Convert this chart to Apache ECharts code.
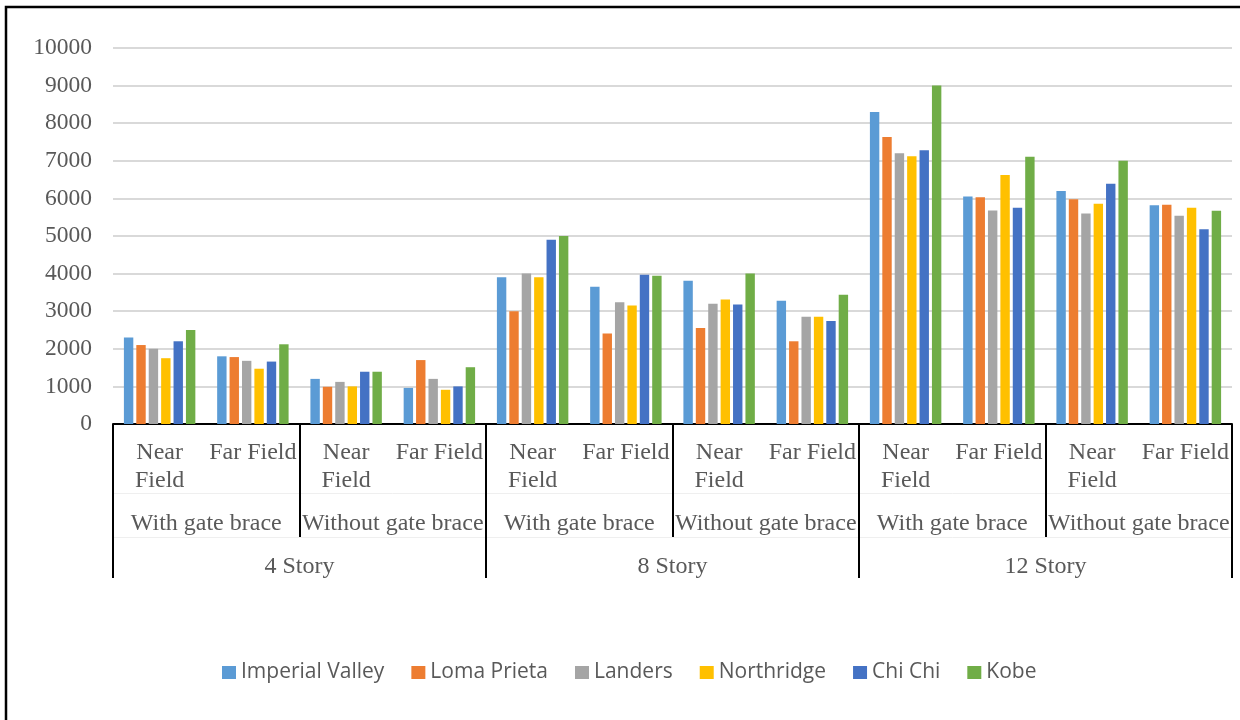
<!DOCTYPE html>
<html>
<head>
<meta charset="utf-8">
<script src="https://cdn.jsdelivr.net/npm/echarts@6/dist/echarts.min.js"></script>
<style>
  html, body { margin: 0; padding: 0; background: #ffffff; }
  #chart { width: 1240px; height: 720px; }
</style>
</head>
<body>
<div id="chart"></div>
<script>
// Three-level category axis: field type / brace condition / building height
const fieldLabels = ['Near\nField', 'Far Field', 'Near\nField', 'Far Field',
                     'Near\nField', 'Far Field', 'Near\nField', 'Far Field',
                     'Near\nField', 'Far Field', 'Near\nField', 'Far Field'];
const braceLabels = ['With gate brace', 'Without gate brace',
                     'With gate brace', 'Without gate brace',
                     'With gate brace', 'Without gate brace'];
const storyLabels = ['4 Story', '8 Story', '12 Story'];

const yTicks = { min: 0, max: 10000, step: 1000 };

// Earthquake records
const seriesNames = ['Imperial Valley', 'Loma Prieta', 'Landers', 'Northridge', 'Chi Chi', 'Kobe'];
const imperialValley = [2300, 1800, 1200, 960, 3900, 3650, 3810, 3280, 8300, 6050, 6200, 5820];
const lomaPrieta     = [2100, 1780, 990, 1700, 3000, 2410, 2550, 2200, 7630, 6030, 5980, 5830];
const landers        = [2000, 1680, 1120, 1200, 4000, 3240, 3200, 2850, 7200, 5680, 5600, 5540];
const northridge     = [1750, 1470, 1000, 910, 3900, 3150, 3310, 2850, 7120, 6620, 5860, 5750];
const chiChi         = [2200, 1660, 1390, 1000, 4900, 3970, 3180, 2740, 7280, 5750, 6390, 5180];
const kobe           = [2500, 2120, 1390, 1510, 5000, 3940, 4000, 3440, 9000, 7110, 7000, 5670];

const seriesValues = [imperialValley, lomaPrieta, landers, northridge, chiChi, kobe];
const palette = ['#5B9BD5', '#ED7D31', '#A5A5A5', '#FFC000', '#4472C4', '#70AD47'];

const serif = 'Liberation Serif, "Times New Roman", serif';
const textGray = '#595959';

const chart = echarts.init(document.getElementById('chart'), null, { renderer: 'canvas' });

const hiddenAxisBase = {
  type: 'category',
  position: 'bottom',
  gridIndex: 0,
  boundaryGap: true,
  splitLine: { show: false }
};

chart.setOption({
  animation: false,
  backgroundColor: '#ffffff',
  color: palette,
  grid: { left: 113, right: 8, top: 48, bottom: 296, containLabel: false },
  legend: {
    data: seriesNames,
    left: 217,
    top: 657,
    icon: 'rect',
    itemWidth: 14,
    itemHeight: 13,
    itemGap: 27,
    textStyle: { fontFamily: '"Open Sans", sans-serif', fontSize: 21, color: textGray }
  },
  xAxis: [
    {
      ...hiddenAxisBase,
      data: fieldLabels,
      axisLine: { show: true, lineStyle: { color: '#000000', width: 2 } },
      axisTick: { show: false },
      axisLabel: {
        interval: 0, margin: 15, color: textGray,
        fontFamily: serif, fontSize: 24, lineHeight: 28, align: 'center'
      }
    },
    {
      ...hiddenAxisBase,
      data: braceLabels,
      axisLine: { show: false },
      axisTick: { show: true, interval: 0, length: 113, lineStyle: { color: '#000000', width: 2 } },
      axisLabel: {
        interval: 0, margin: 100, verticalAlign: 'middle', color: textGray,
        fontFamily: serif, fontSize: 24
      }
    },
    {
      ...hiddenAxisBase,
      data: storyLabels,
      axisLine: { show: false },
      axisTick: { show: true, interval: 0, length: 154, lineStyle: { color: '#000000', width: 2 } },
      axisLabel: {
        interval: 0, margin: 143, verticalAlign: 'middle', color: textGray,
        fontFamily: serif, fontSize: 24
      }
    },
    {
      ...hiddenAxisBase,
      data: storyLabels,
      offset: 69,
      axisLine: { show: true, lineStyle: { color: '#efefef', width: 1 } },
      axisTick: { show: false },
      axisLabel: { show: false }
    },
    {
      ...hiddenAxisBase,
      data: storyLabels,
      offset: 113,
      axisLine: { show: true, lineStyle: { color: '#efefef', width: 1 } },
      axisTick: { show: false },
      axisLabel: { show: false }
    }
  ],
  yAxis: {
    type: 'value',
    min: yTicks.min,
    max: yTicks.max,
    interval: yTicks.step,
    axisLine: { show: false },
    axisTick: { show: false },
    axisLabel: {
      margin: 21, color: textGray, fontFamily: serif, fontSize: 23.5,
      formatter: (v) => String(v)
    },
    splitLine: { show: true, lineStyle: { color: '#d9d9d9', width: 2 } }
  },
  series: seriesNames.map((name, i) => ({
    name: name,
    type: 'bar',
    xAxisIndex: 0,
    yAxisIndex: 0,
    data: seriesValues[i],
    barWidth: 9.4,
    barGap: '32%',
    itemStyle: { color: palette[i] }
  })),
  graphic: [
    {
      type: 'rect',
      silent: true,
      z: 100,
      shape: { x: 6, y: 7, width: 1260, height: 740 },
      style: { fill: 'none', stroke: '#000000', lineWidth: 2.5 }
    }
  ]
});
</script>
</body>
</html>
